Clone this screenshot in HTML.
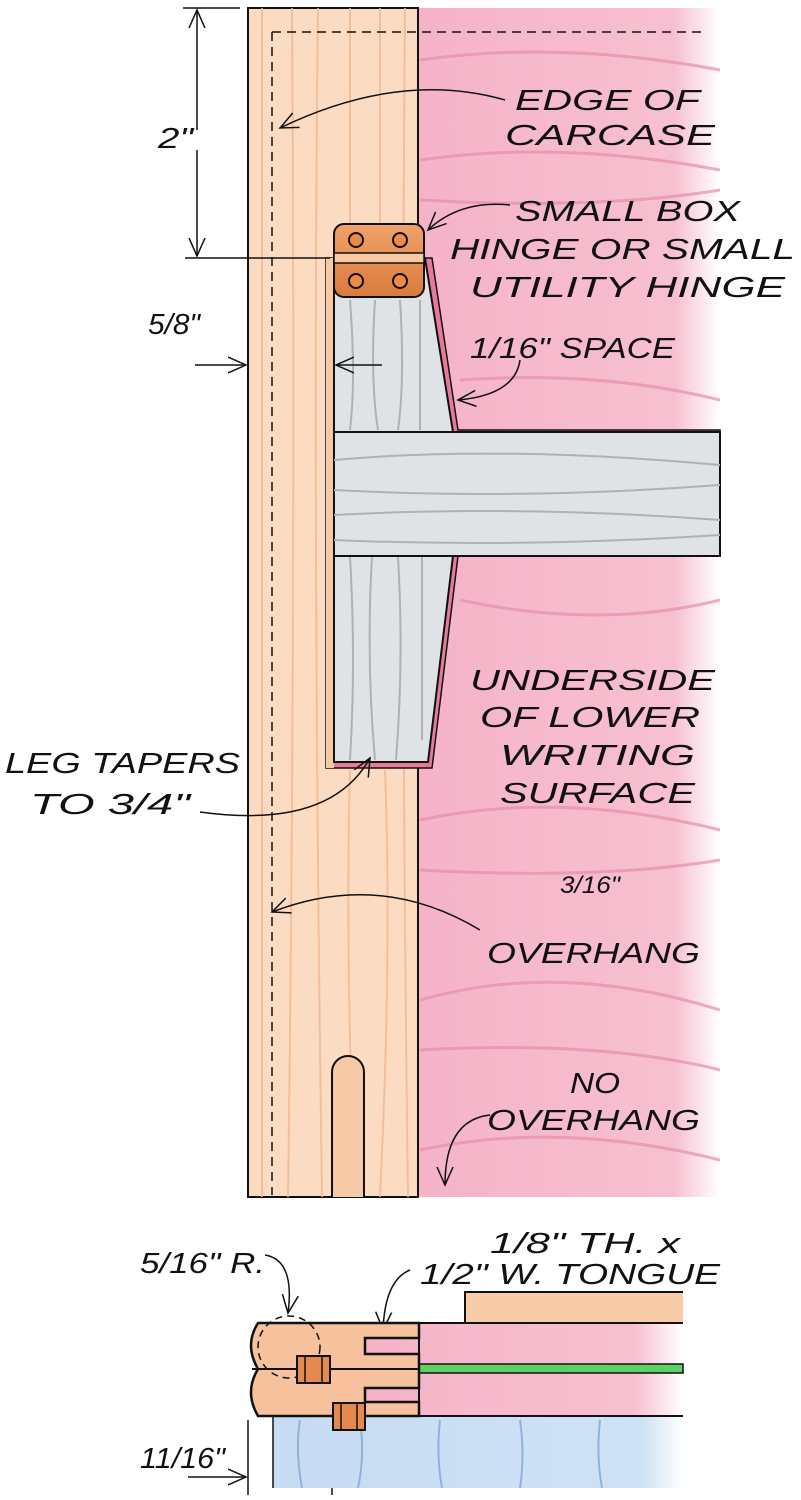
<!DOCTYPE html>
<html><head><meta charset="utf-8"><style>
html,body{margin:0;padding:0;background:#fff;}
svg{display:block}
text{font-family:"Liberation Sans",sans-serif;font-style:italic;font-size:29px;fill:#111}
</style></head><body>
<svg width="801" height="1500" viewBox="0 0 801 1500" xmlns="http://www.w3.org/2000/svg">
<defs>
<linearGradient id="pk" x1="0" x2="1" y1="0" y2="0">
<stop offset="0" stop-color="#f5b3c8"/><stop offset="0.85" stop-color="#f7c0d0"/><stop offset="1" stop-color="#fff"/>
</linearGradient>
<linearGradient id="bl" x1="0" x2="1"><stop offset="0" stop-color="#c6dcf3"/><stop offset="0.9" stop-color="#cfe1f4"/><stop offset="1" stop-color="#fff"/></linearGradient>
<linearGradient id="cu" x1="0" x2="0" y1="0" y2="1"><stop offset="0" stop-color="#f0a36a"/><stop offset="1" stop-color="#d97a3e"/></linearGradient>
<marker id="ah" viewBox="0 0 20 20" refX="18" refY="10" markerWidth="20" markerHeight="20" markerUnits="userSpaceOnUse" orient="auto"><path d="M0 2 L18 10 L0 18" fill="none" stroke="#111" stroke-width="1.5"/></marker>
</defs>
<rect x="418" y="8" width="302" height="1189" fill="url(#pk)"/>
<g stroke="#e58fab" stroke-width="3" fill="none" opacity="0.7">
<path d="M420 60 Q560 40 720 70"/><path d="M420 160 Q560 140 720 170"/><path d="M420 200 Q600 210 720 190"/>
<path d="M460 380 Q600 370 720 400"/><path d="M460 600 Q600 630 720 600"/><path d="M420 820 Q560 790 720 830"/>
<path d="M420 870 Q600 880 720 860"/><path d="M420 1000 Q560 960 720 1010"/><path d="M420 1050 Q600 1040 720 1070"/>
<path d="M420 1150 Q560 1120 720 1160"/>
</g>
<rect x="248" y="8" width="170" height="1189" fill="#fbdcc2" stroke="#111" stroke-width="2"/>
<g stroke="#efb892" stroke-width="2" fill="none" opacity="0.8">
<path d="M262 8 V1197"/><path d="M292 8 Q296 600 288 1197"/><path d="M318 8 Q312 500 322 1197"/><path d="M350 8 V230"/><path d="M380 8 V230"/><path d="M405 8 Q400 600 408 1197"/><path d="M350 770 Q345 950 355 1197"/><path d="M385 770 Q392 950 380 1197"/>
</g>
<path d="M272 32 V1195 M272 32 H705" stroke="#111" stroke-width="1.5" stroke-dasharray="9 6" fill="none"/>
<path d="M332 1197 V1072 A16 16 0 0 1 364 1072 V1197" fill="#f6c9a6" stroke="#111" stroke-width="2"/>
<path d="M326 258 H432 L458 430 H720 V556 H458 L432 768 H326 Z" fill="#e8799b" stroke="#111" stroke-width="1.5"/>
<path d="M326 258 H334 V768 H326 Z" fill="#f6c9a6"/>
<path d="M334 258 H425 L453 432 H720 V556 H453 L428 762 H334 Z" fill="#dfe3e6" stroke="#111" stroke-width="2"/>
<g stroke="#aab3b8" stroke-width="2" fill="none">
<path d="M350 300 Q356 380 350 430"/><path d="M375 300 Q370 380 378 430"/><path d="M400 300 Q405 380 398 430"/><path d="M420 300 V430"/>
<path d="M350 556 Q356 660 350 760"/><path d="M372 556 Q366 660 375 760"/><path d="M398 556 Q404 660 396 760"/><path d="M422 556 V740"/>
<path d="M334 460 Q500 445 720 465"/><path d="M334 490 Q520 500 720 485"/><path d="M334 515 Q520 505 720 520"/><path d="M334 540 Q520 548 720 535"/>
</g>
<line x1="334" y1="432" x2="720" y2="432" stroke="#111" stroke-width="2"/>
<line x1="334" y1="556" x2="720" y2="556" stroke="#111" stroke-width="2"/>
<rect x="334" y="224" width="90" height="73" rx="10" fill="url(#cu)" stroke="#111" stroke-width="2"/>
<rect x="334" y="253" width="90" height="10" fill="#f8caa4" stroke="#111" stroke-width="1.5"/>
<g fill="#ec8a46" stroke="#111" stroke-width="2"><circle cx="356" cy="240" r="7"/><circle cx="400" cy="240" r="7"/><circle cx="356" cy="281" r="7"/><circle cx="400" cy="281" r="7"/></g>
<g stroke="#111" stroke-width="1.5" fill="none">
<path d="M183 8 H240"/><path d="M185 258 H330"/><path d="M197 130 V10" marker-end="url(#ah)"/><path d="M197 150 V256" marker-end="url(#ah)"/>
<path d="M195 365 H246" marker-end="url(#ah)"/><path d="M382 365 H336" marker-end="url(#ah)"/>
<path d="M505 100 Q400 70 280 128" marker-end="url(#ah)"/>
<path d="M510 205 Q460 200 428 230" marker-end="url(#ah)"/>
<path d="M520 360 Q515 395 458 400" marker-end="url(#ah)"/>
<path d="M200 812 Q330 830 370 758" marker-end="url(#ah)"/>
<path d="M480 930 Q380 870 272 912" marker-end="url(#ah)"/>
<path d="M490 1115 Q445 1120 445 1185" marker-end="url(#ah)"/>
<path d="M265 1255 Q295 1260 288 1313" marker-end="url(#ah)"/>
<path d="M410 1270 Q385 1280 383 1330" marker-end="url(#ah)"/>
<path d="M248 1420 V1495"/><path d="M332 1420 V1495"/>
<path d="M188 1477 H246" marker-end="url(#ah)"/><path d="M385 1477 H334" marker-end="url(#ah)"/>
</g>
<rect x="273" y="1416" width="410" height="72" fill="url(#bl)"/>
<g stroke="#8fb2d8" stroke-width="2" fill="none"><path d="M300 1420 Q295 1450 302 1488"/><path d="M360 1420 Q365 1455 358 1488"/><path d="M440 1420 Q436 1455 442 1488"/><path d="M520 1420 Q525 1455 520 1488"/><path d="M600 1420 Q596 1455 602 1488"/></g>
<line x1="273" y1="1416" x2="273" y2="1488" stroke="#111" stroke-width="1.5"/>
<rect x="465" y="1292" width="218" height="31" fill="#f8cca8"/>
<path d="M683 1292 H465 V1323" fill="none" stroke="#111" stroke-width="2"/>
<rect x="365" y="1323" width="318" height="93" fill="url(#pk)"/>
<path d="M683 1323 H419 V1416 H683" fill="none" stroke="#111" stroke-width="2"/>
<rect x="419" y="1364" width="264" height="9" fill="#5ed165" stroke="#111" stroke-width="1.5"/>
<path d="M258 1323 H419 V1338 H365 V1354 H419 V1388 H365 V1402 H419 V1416 H258 Q244 1392 258 1369 Q244 1345 258 1323 Z" fill="#f6c29e" stroke="#111" stroke-width="2.5"/>
<line x1="252" y1="1369" x2="419" y2="1369" stroke="#111" stroke-width="2"/>
<circle cx="289" cy="1347" r="31" fill="none" stroke="#111" stroke-width="1.5" stroke-dasharray="7 5"/>
<g fill="#e48a4e" stroke="#111" stroke-width="2"><rect x="297" y="1356" width="33" height="27"/><rect x="333" y="1403" width="32" height="27"/></g>
<g stroke="#111" stroke-width="1.5"><line x1="305" y1="1356" x2="305" y2="1383"/><line x1="322" y1="1356" x2="322" y2="1383"/><line x1="341" y1="1403" x2="341" y2="1430"/><line x1="357" y1="1403" x2="357" y2="1430"/></g>
<g lengthAdjust="spacingAndGlyphs">
<text x="515" y="110" textLength="185" lengthAdjust="spacingAndGlyphs">EDGE OF</text>
<text x="505" y="145" textLength="210" lengthAdjust="spacingAndGlyphs">CARCASE</text>
<text x="515" y="221" textLength="225" lengthAdjust="spacingAndGlyphs">SMALL BOX</text>
<text x="450" y="259" textLength="345" lengthAdjust="spacingAndGlyphs">HINGE OR SMALL</text>
<text x="470" y="297" textLength="315" lengthAdjust="spacingAndGlyphs">UTILITY HINGE</text>
<text x="158" y="148" textLength="35" lengthAdjust="spacingAndGlyphs">2"</text>
<text x="148" y="334" textLength="52" lengthAdjust="spacingAndGlyphs">5/8"</text>
<text x="470" y="358" textLength="205" lengthAdjust="spacingAndGlyphs">1/16" SPACE</text>
<text x="470" y="690" textLength="245" lengthAdjust="spacingAndGlyphs">UNDERSIDE</text>
<text x="480" y="727" textLength="220" lengthAdjust="spacingAndGlyphs">OF LOWER</text>
<text x="500" y="765" textLength="195" lengthAdjust="spacingAndGlyphs">WRITING</text>
<text x="500" y="803" textLength="195" lengthAdjust="spacingAndGlyphs">SURFACE</text>
<text x="5" y="773" textLength="235" lengthAdjust="spacingAndGlyphs">LEG TAPERS</text>
<text x="30" y="814" textLength="160" lengthAdjust="spacingAndGlyphs">TO 3/4"</text>
<text x="560" y="893" textLength="60" lengthAdjust="spacingAndGlyphs" style="font-size:24px">3/16"</text>
<text x="487" y="963" textLength="213" lengthAdjust="spacingAndGlyphs">OVERHANG</text>
<text x="570" y="1093" textLength="50" lengthAdjust="spacingAndGlyphs">NO</text>
<text x="487" y="1130" textLength="213" lengthAdjust="spacingAndGlyphs">OVERHANG</text>
<text x="490" y="1253" textLength="190" lengthAdjust="spacingAndGlyphs">1/8" TH. x</text>
<text x="420" y="1284" textLength="300" lengthAdjust="spacingAndGlyphs">1/2" W. TONGUE</text>
<text x="140" y="1273" textLength="125" lengthAdjust="spacingAndGlyphs">5/16" R.</text>
<text x="140" y="1468" textLength="85" lengthAdjust="spacingAndGlyphs">11/16"</text>
</g>
</svg>
</body></html>
